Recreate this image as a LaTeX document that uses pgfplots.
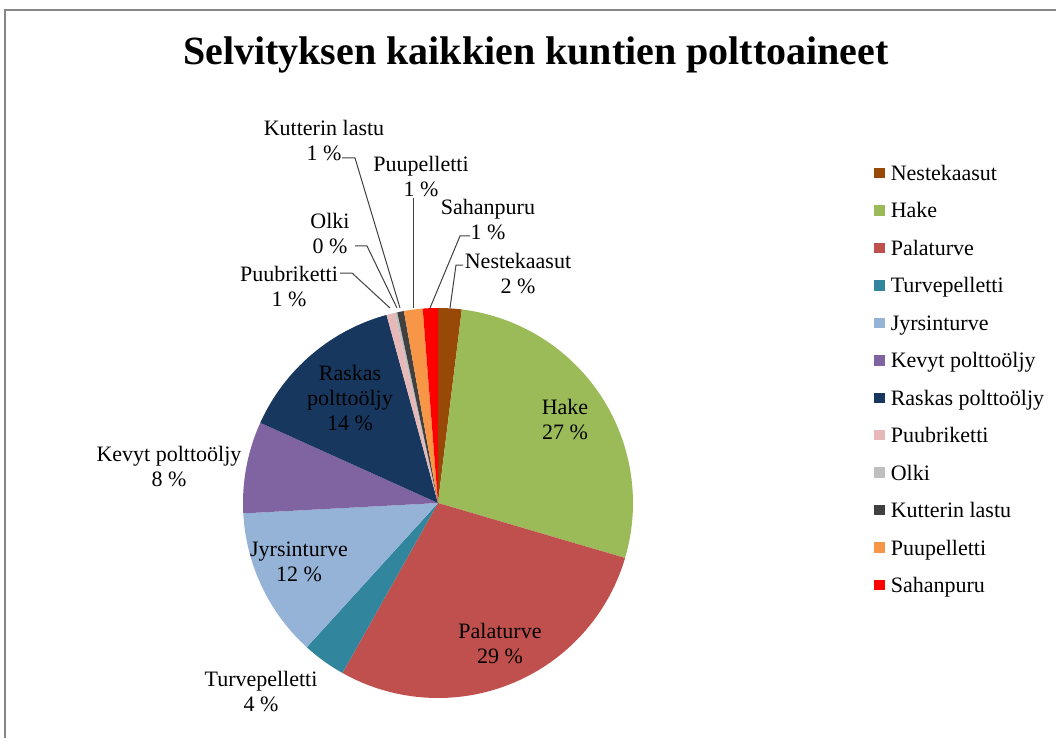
\documentclass[border=0pt]{standalone}
\usepackage{pgfplots}
\pgfplotsset{compat=1.18}
\usepackage{pgfplotstable}
\usepackage{fontspec}
\setmainfont{Liberation Serif}

\definecolor{c0}{RGB}{152,72,7}
\definecolor{c1}{RGB}{155,187,89}
\definecolor{c2}{RGB}{192,80,77}
\definecolor{c3}{RGB}{49,133,156}
\definecolor{c4}{RGB}{149,179,215}
\definecolor{c5}{RGB}{128,100,162}
\definecolor{c6}{RGB}{23,55,94}
\definecolor{c7}{RGB}{230,185,184}
\definecolor{c8}{RGB}{191,191,191}
\definecolor{c9}{RGB}{64,64,64}
\definecolor{c10}{RGB}{247,150,70}
\definecolor{c11}{RGB}{255,0,0}
\definecolor{framegray}{RGB}{134,134,134}

\pgfplotstableread[col sep=comma]{
name,value
Nestekaasut,1.95
Hake,27.6
Palaturve,28.6
Turvepelletti,3.6
Jyrsinturve,12.4
Kevyt polttoöljy,7.6
Raskas polttoöljy,14.0
Puubriketti,0.7
Olki,0.2
Kutterin lastu,0.55
Puupelletti,1.55
Sahanpuru,1.25
}\piedata

\begin{document}
\begin{tikzpicture}
\begin{axis}[
  x=0.5pt, y=0.5pt, y dir=reverse,
  xmin=0, xmax=1056, ymin=0, ymax=738,
  hide axis, clip=false, scale only axis,
  legend image code/.code={\fill[#1] (0pt,-1.4pt) rectangle (5.2pt,3.8pt);},
  legend cell align=left,
  legend style={at={(axis cs:868,161)}, anchor=north west, draw=none, fill=none,
    font=\fontsize{11}{12.5}\selectfont,
    nodes={inner sep=0pt, text height=7.5pt, text depth=2.5pt},
    row sep=8.73pt,
    /tikz/every odd column/.append style={column sep=3pt}},
]
\xdef\cum{0}
\pgfplotsinvokeforeach{0,...,11}{%
  \pgfplotstablegetelem{#1}{value}\of\piedata
  \pgfmathsetmacro\tA{3.6*\cum}%
  \pgfmathsetmacro\tB{3.6*(\cum+\pgfplotsretval)}%
  \pgfmathsetmacro\cumnew{\cum+\pgfplotsretval}%
  \xdef\cum{\cumnew}%
  \pgfplotstablegetelem{#1}{name}\of\piedata
  \edef\doslice{\noexpand\addplot[fill=c#1, draw=none, domain=\tA:\tB, samples=60]
     ({438+195*sin(x)},{503-195*cos(x)}) -- (axis cs:438,503) -- cycle;
     \noexpand\addlegendentry{\pgfplotsretval}}%
  \doslice
}

% frame
\draw[framegray, line width=1pt] (axis cs:5,10) rectangle (axis cs:1080,760);
% title
\node[font=\bfseries\fontsize{20}{24}\selectfont, anchor=base] at (axis cs:536,65) {Selvityksen kaikkien kuntien polttoaineet};

% leader lines
\begin{scope}[black!75, line width=0.5pt]
\draw (axis cs:463,265) -- (axis cs:456,265) -- (axis cs:450,308);
\draw (axis cs:470,236) -- (axis cs:460,236) -- (axis cs:430,308);
\draw (axis cs:413,198) -- (axis cs:413,308);
\draw (axis cs:342,158) -- (axis cs:355,158) -- (axis cs:400,308);
\draw (axis cs:355,246) -- (axis cs:367,246) -- (axis cs:397,308);
\draw (axis cs:340,273) -- (axis cs:352,273) -- (axis cs:390,308);
\end{scope}

% data labels
\begin{scope}[every node/.style={font=\fontsize{11}{12.5}\selectfont, align=center, inner sep=0pt}]
\node at (axis cs:518,273.5) {Nestekaasut\\2 \%};
\node at (axis cs:488,220) {Sahanpuru\\1 \%};
\node at (axis cs:421,176.5) {Puupelletti\\1 \%};
\node at (axis cs:324,140.5) {Kutterin lastu\\1 \%};
\node at (axis cs:330,234) {Olki\\0 \%};
\node at (axis cs:289,286.5) {Puubriketti\\1 \%};
\node at (axis cs:565,420) {Hake\\27 \%};
\node at (axis cs:500,644) {Palaturve\\29 \%};
\node at (axis cs:261,692) {Turvepelletti\\4 \%};
\node at (axis cs:299,562) {Jyrsinturve\\12 \%};
\node at (axis cs:169,467) {Kevyt polttoöljy\\8 \%};
\node at (axis cs:350,398) {Raskas\\polttoöljy\\14 \%};
\end{scope}
\end{axis}
\pgfresetboundingbox
\path (current axis.south west) rectangle (current axis.north east);
\end{tikzpicture}
\end{document}
